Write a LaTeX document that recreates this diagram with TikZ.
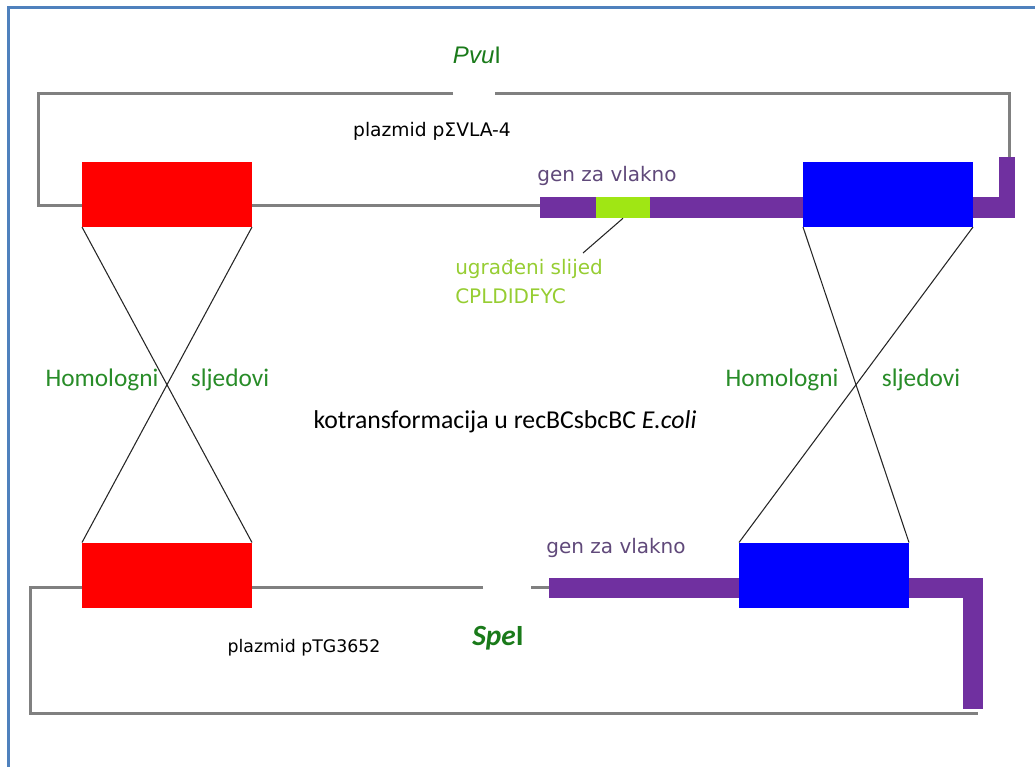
\documentclass[tikz,border=0pt]{standalone}
\usepackage{fontspec}
\setmainfont{DejaVu Sans}
\newfontfamily\calfont{Carlito}
\newfontfamily\arialfont{Liberation Sans}
\definecolor{framblue}{RGB}{79,129,189}
\definecolor{dnagray}{RGB}{128,128,128}
\definecolor{fibre}{RGB}{112,48,160}
\definecolor{insert}{RGB}{160,230,20}
\definecolor{instext}{RGB}{150,205,50}
\definecolor{genetext}{RGB}{96,73,122}
\definecolor{homgreen}{RGB}{40,140,40}
\definecolor{sitegreen}{RGB}{26,122,26}
\tikzset{
  dna/.style={draw=dnagray,line width=2.25pt},
  homol/.style={inner sep=0pt,outer sep=0pt,minimum width=127.5pt,minimum height=48.75pt},
  cross/.style={draw=black!85,line width=0.8pt},
  lbl/.style={inner sep=0pt,font=\fontsize{14}{17}\selectfont},
  genelbl/.style={lbl,text=genetext,font=\fontsize{15}{18}\selectfont},
  homtxt/.style={inner sep=0pt,text=homgreen,font=\calfont\fontsize{19}{22}\selectfont},
  site/.style={inner sep=0pt,text=sitegreen}
}
\begin{document}
\begin{tikzpicture}[x=0.75pt,y=-0.75pt]
\useasboundingbox (0,0) rectangle (1035,767);
% frame
\draw[framblue,line width=2.25pt] (8,767) -- (8,8) -- (1035,8);
% plasmid pSigmaVLA-4
\draw[dna] (453,94) -- (38,94) -- (38,205) -- (540,205);
\draw[dna] (495,94) -- (1009,94) -- (1009,160);
\fill[fibre] (540,197) rectangle (1015,218);
\fill[fibre] (999,157) rectangle (1015,218);
% plasmid pTG3652
\draw[dna] (483,587) -- (30,587) -- (30,713) -- (978,713);
\draw[dna] (531,587) -- (551,587);
\fill[fibre] (549,578) rectangle (983,598);
\fill[fibre] (963,578) rectangle (983,709);
% homologous regions
\node[homol,fill=red] (redtop) at (167,194.5) {};
\node[homol,fill=blue] (bluetop) at (888,194.5) {};
\node[homol,fill=red] (redbot) at (167,575) {};
\node[homol,fill=blue] (bluebot) at (824,575) {};
\node[inner sep=0pt,minimum width=40.5pt,minimum height=15.75pt,fill=insert] (ins) at (623,207.5) {};
% crossing over
\draw[cross] (redtop.south west) -- (redbot.north east);
\draw[cross] (redtop.south east) -- (redbot.north west);
\draw[cross] (bluetop.south west) -- (bluebot.north east);
\draw[cross] (bluetop.south east) -- (bluebot.north west);
% labels
\node[site,font=\arialfont\fontsize{18}{20}\selectfont] (pvu) at (477,55) {\textit{Pvu}I};
\node[site,font=\calfont\bfseries\fontsize{22}{24}\selectfont] (spe) at (498,638) {\textit{Spe}I};
\node[lbl] (pvla) at (432,131) {plazmid pΣVLA-4};
\node[lbl,font=\fontsize{13}{16}\selectfont] (ptg) at (304,648) {plazmid pTG3652};
\node[genelbl] (gentop) at (607,176) {gen za vlakno};
\node[genelbl] (genbot) at (616,548) {gen za vlakno};
\node[inner sep=0pt,anchor=west,align=left,text=instext,font=\fontsize{15}{21.75}\selectfont] (seq) at (455,282) {ugrađeni slijed\\CPLDIDFYC};
\coordinate (seqtip) at (583,253);
\draw[cross] (ins.south) -- (seqtip);
\node[homtxt] (hom1) at (102,380) {Homologni};
\node[homtxt] (slj1) at (230,380) {sljedovi};
\node[homtxt] (hom2) at (782,380) {Homologni};
\node[homtxt] (slj2) at (921,380) {sljedovi};
\node[inner sep=0pt,font=\calfont\fontsize{19.3}{22}\selectfont] (kotr) at (505,422) {kotransformacija u recBCsbcBC \textit{E.coli}};
\end{tikzpicture}
\end{document}
